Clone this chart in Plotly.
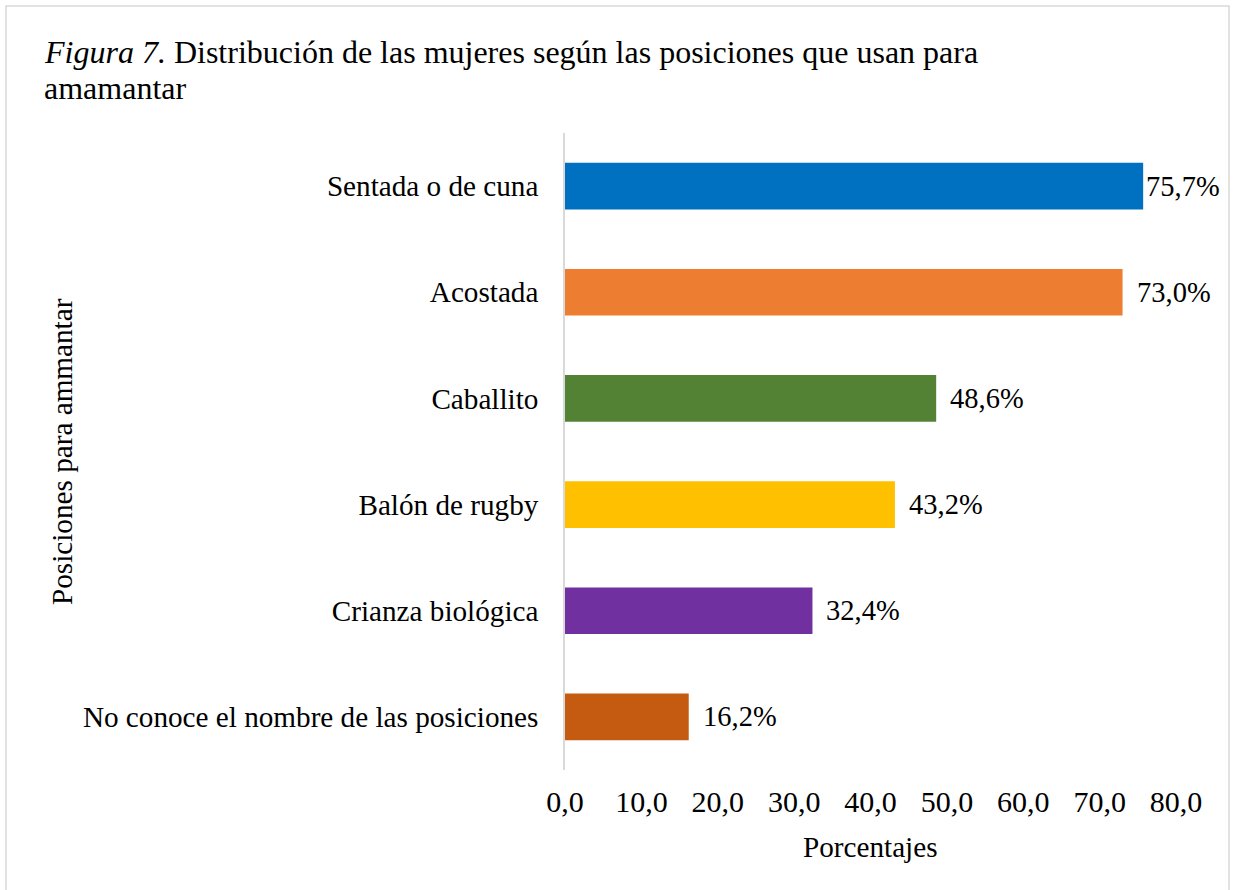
import plotly.graph_objects as go

categories = [
    "Sentada o de cuna",
    "Acostada",
    "Caballito",
    "Balón de rugby",
    "Crianza biológica",
    "No conoce el nombre de las posiciones",
]
values = [75.7, 73.0, 48.6, 43.2, 32.4, 16.2]
colors = ["#0070C0", "#ED7D31", "#548235", "#FFC000", "#7030A0", "#C55A11"]
x_ticks = [0, 10, 20, 30, 40, 50, 60, 70, 80]
title_lines = [
    "<i>Figura 7.</i> Distribución de las mujeres según las posiciones que usan para",
    "amamantar",
]

W, H = 1233, 890
ML, MR, MT, MB = 565, 57, 133, 120
PW = W - ML - MR
PH = H - MT - MB
XMAX = 80
FONT = "Liberation Serif, Times New Roman, serif"
FS = 29.2

fig = go.Figure()
fig.add_trace(go.Bar(
    x=values, y=categories, orientation="h",
    marker=dict(color=colors, line=dict(width=0)),
    width=0.44, showlegend=False, hoverinfo="skip",
))

# data labels
for v, c in zip(values, categories):
    bar_end_px = v / XMAX * PW
    label_w = 74
    shift = min(12, (PW + 42) - label_w - bar_end_px)
    fig.add_annotation(
        x=v, y=c, xref="x", yref="y", text=f"{v:.1f}".replace(".", ",") + "%",
        showarrow=False, xanchor="left", yanchor="middle", xshift=shift,
        font=dict(size=28.5, color="black", family=FONT),
    )

def px_x(p):
    return (p - ML) / PW

def px_y(p):
    return (H - MB - p) / PH

# title (two lines)
for line, yc in zip(title_lines, [52, 88]):
    fig.add_annotation(
        x=px_x(42), y=px_y(yc), xref="paper", yref="paper", text=line,
        showarrow=False, xanchor="left", yanchor="middle",
        font=dict(size=32, color="black", family=FONT),
    )

# y-axis title
fig.add_annotation(
    x=px_x(62), y=px_y(452), xref="paper", yref="paper",
    text="Posiciones para ammantar", textangle=-90, showarrow=False,
    xanchor="center", yanchor="middle",
    font=dict(size=FS, color="black", family=FONT),
)
# x-axis title
fig.add_annotation(
    x=0.5, y=px_y(847), xref="paper", yref="paper",
    text="Porcentajes", showarrow=False, xanchor="center", yanchor="middle",
    font=dict(size=FS, color="black", family=FONT),
)

# chart border
fig.add_shape(
    type="rect", xref="paper", yref="paper",
    x0=px_x(6), x1=px_x(1229), y0=px_y(900), y1=px_y(6),
    line=dict(color="#d9d9d9", width=1.5), fillcolor="rgba(0,0,0,0)", layer="below",
)

fig.update_layout(
    width=W, height=H,
    margin=dict(l=ML, r=MR, t=MT, b=MB, pad=0),
    paper_bgcolor="white", plot_bgcolor="white",
    separators=",.",
    font=dict(family=FONT, size=FS, color="black"),
    xaxis=dict(
        range=[0, XMAX], tickvals=x_ticks, tickformat=".1f",
        showgrid=False, zeroline=False, showline=False, ticks="",
        tickfont=dict(size=30, color="black", family=FONT),
        ticklabelstandoff=11, fixedrange=True,
    ),
    yaxis=dict(
        categoryorder="array", categoryarray=categories, autorange="reversed",
        showgrid=False, zeroline=False, showline=True, linecolor="#d9d9d9", linewidth=1.5,
        ticks="", tickfont=dict(size=FS, color="black", family=FONT),
        ticklabelstandoff=19, fixedrange=True,
    ),
)

fig.write_html(
    "out.html",
    config={"displayModeBar": False},
    post_script="document.body.style.margin='0px';",
)
